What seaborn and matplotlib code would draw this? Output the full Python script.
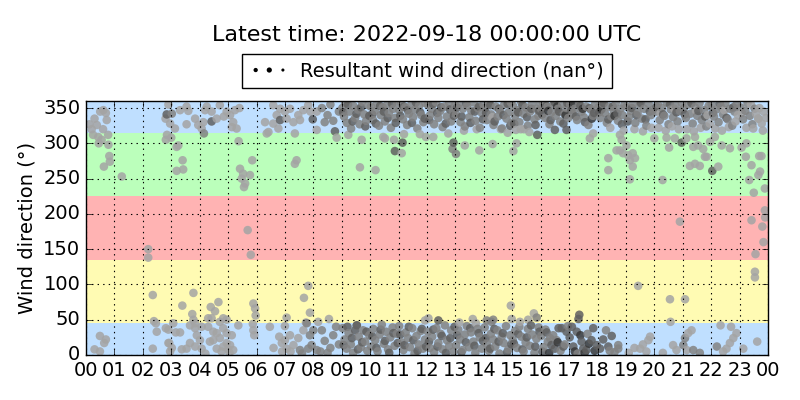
import matplotlib
matplotlib.use("Agg")
import matplotlib.pyplot as plt
import matplotlib.dates as mdates
import pandas as pd
import seaborn as sns

# wind direction observations: (hour of day, direction in degrees), grouped by point shade
light_pts = [
    (0.12, 327), (0.2, 320), (0.25, 312), (0.3, 335), (0.38, 326), (0.43, 309), (0.45, 300),
    (0.5, 345), (0.55, 305), (0.6, 320), (0.61, 347), (0.7, 343), (0.73, 333), (0.78, 312),
    (0.79, 298), (0.82, 282), (0.84, 274), (0.63, 267), (1.26, 253),
    (0.49, 27), (0.64, 17), (0.49, 5), (0.3, 8), (0.7, 22),
    (2.19, 150), (2.19, 138), (2.35, 85), (2.39, 48), (2.46, 45), (2.49, 33), (2.35, 9),
    (2.81, 38), (2.9, 36), (2.9, 17),
    (2.9, 355), (2.8, 335), (2.96, 328), (3.13, 321), (2.81, 305), (2.85, 312), (3.0, 308),
    (3.19, 295), (3.25, 297), (3.4, 276), (3.19, 261), (3.42, 263), (3.31, 347), (3.54, 352),
    (3.6, 346), (3.54, 327), (3.84, 335), (3.95, 326), (4.13, 330), (4.07, 321),
    (3.07, 45), (3.16, 32), (3.31, 32), (2.93, 17), (3.02, 10), (2.96, 5), (3.37, 8), (3.39, 70),
    (3.78, 88), (3.74, 58), (3.78, 50), (3.84, 45), (3.66, 42), (3.84, 38), (3.9, 28), (4.01, 21),
    (3.66, 17), (3.84, 12), (3.54, 9), (4.07, 9),
    (4.25, 352), (4.42, 345), (4.19, 347), (4.71, 354), (4.95, 345), (5.07, 340), (5.24, 347),
    (5.18, 330), (5.13, 323), (5.3, 321), (5.37, 303), (4.6, 335), (4.85, 338),
    (4.39, 68), (4.54, 62), (4.66, 75), (4.3, 52), (4.42, 52), (4.83, 52), (4.95, 50), (5.36, 42),
    (4.07, 40), (4.3, 40), (4.48, 33), (4.6, 31), (4.71, 47), (4.83, 38), (4.95, 31), (5.13, 28),
    (4.71, 24), (4.48, 21), (4.36, 19), (4.95, 17), (5.07, 14), (4.83, 12), (4.6, 9), (5.0, 8),
    (5.18, 7), (4.77, 5), (4.2, 2), (5.05, 3),
    (5.42, 264), (5.53, 257), (5.77, 255), (5.48, 250), (5.6, 243), (5.56, 238), (5.85, 276),
    (5.69, 177), (5.8, 142), (5.89, 73), (5.95, 66), (5.97, 56), (5.87, 44), (5.89, 35), (5.92, 28),
    (5.4, 350),
    (6.59, 354), (6.83, 349), (7.0, 345), (6.71, 340), (6.59, 328), (6.77, 321), (6.42, 316),
    (6.36, 314), (6.3, 330),
    (6.47, 40), (6.8, 26), (6.89, 17), (7.0, 21), (6.6, 10), (6.9, 5),
    (7.18, 349), (7.06, 335), (7.3, 330), (7.53, 333), (7.47, 340), (7.65, 347), (7.82, 354),
    (7.35, 314), (7.41, 276), (7.35, 271), (7.9, 345),
    (7.06, 53), (7.0, 41), (7.82, 98), (7.67, 81), (7.88, 60), (7.74, 46), (8.17, 47), (7.18, 28),
    (7.3, 14), (7.47, 24), (7.65, 35), (7.06, 9), (7.2, 5),
    (8.12, 345), (8.12, 319), (8.82, 308), (9.23, 312), (9.7, 305), (9.64, 266), (10.19, 262),
    (10.46, 309), (10.52, 307), (10.84, 305), (11.11, 286), (11.19, 313), (11.75, 313),
    (11.96, 309), (12.22, 309), (12.75, 314), (13.33, 297), (13.84, 290), (14.31, 299),
    (15.04, 289), (15.15, 300), (14.84, 315), (15.13, 319), (15.41, 320),
    (8.55, 51), (12.05, 52), (11.93, 49), (13.14, 46), (13.61, 51), (13.72, 45), (14.95, 70),
    (14.98, 51), (15.27, 47), (15.56, 50), (15.76, 59),
    (13.3, 318), (13.75, 320), (14.6, 320), (14.3, 337), (15.3, 320), (15.6, 316),
    (17.73, 307), (17.85, 314), (18.38, 279), (18.38, 262), (18.67, 290), (18.79, 290),
    (18.9, 286), (19.08, 283), (19.24, 286), (19.32, 279), (19.14, 276), (19.24, 267),
    (19.14, 249), (18.79, 312), (18.85, 305), (19.02, 297), (18.45, 322), (18.92, 318),
    (20.0, 307), (20.43, 308), (20.72, 307), (20.52, 294), (20.29, 248), (21.13, 307),
    (21.43, 309), (21.25, 268), (21.43, 271), (21.6, 268), (21.37, 295), (21.54, 297),
    (21.72, 292), (21.84, 281), (21.78, 281), (21.96, 302), (22.25, 267), (22.37, 297),
    (22.13, 309), (22.66, 293), (23.07, 294), (23.24, 300), (23.22, 281), (23.42, 269),
    (23.69, 282), (23.77, 282), (23.66, 255), (23.72, 260), (23.34, 248), (23.5, 230),
    (23.48, 321), (23.66, 335), (23.89, 236), (23.89, 205), (23.9, 195),
    (19.3, 320), (19.6, 317), (19.9, 322),
    (20.15, 322), (20.4, 318), (20.62, 324), (20.86, 320), (20.22, 343), (20.7, 349),
    (21.15, 320), (21.39, 317), (21.63, 322), (21.87, 340), (21.47, 346), (21.95, 328),
    (22.14, 321), (22.38, 318), (22.62, 323), (22.86, 331), (22.46, 347), (22.94, 340),
    (23.08, 343), (23.24, 322), (23.4, 355), (23.66, 335), (23.58, 342), (23.7, 350),
    (23.78, 328), (23.85, 345), (23.93, 336), (23.82, 318),
    (20.9, 189), (23.42, 191), (23.8, 182), (23.84, 160), (23.56, 143), (23.54, 118), (23.54, 110),
    (19.43, 98), (20.55, 79), (21.08, 79), (20.57, 47),
    (19.85, 26), (19.79, 21), (19.5, 9), (19.72, 5), (19.3, 10), (19.1, 3), (19.6, 15),
    (20.66, 14), (20.78, 7), (20.3, 3),
    (21.19, 31), (21.31, 35), (21.14, 7), (22.33, 42), (22.7, 40), (22.78, 24), (22.66, 17),
    (22.54, 9), (22.42, 5), (22.89, 31), (23.13, 9), (23.62, 19),
]

mid_pts = [
    (3.02, 342), (4.15, 314), (7.77, 45), (7.88, 28), (7.94, 14), (8.0, 35), (8.12, 7),
    (7.82, 9), (7.53, 7), (7.6, 2),
    (8.3, 350), (8.5, 340), (8.6, 355), (8.4, 330), (8.9, 345), (8.7, 332),
    (8.3, 35), (8.4, 20), (8.6, 10), (8.7, 28), (8.9, 15), (8.25, 5), (8.8, 40), (8.5, 3),
    (9.02, 350), (9.08, 338), (9.12, 357), (9.18, 329), (9.27, 345), (9.33, 321), (9.41, 353),
    (9.47, 336), (9.58, 348), (9.63, 327), (9.71, 359), (9.79, 341), (9.86, 332), (9.94, 354),
    (10.03, 352), (10.1, 333), (10.16, 346), (10.24, 357), (10.31, 325), (10.37, 340),
    (10.44, 351), (10.52, 331), (10.6, 355), (10.66, 343), (10.73, 322), (10.81, 349),
    (10.88, 336), (10.95, 358),
    (11.02, 347), (11.09, 358), (11.15, 334), (11.23, 351), (11.3, 326), (11.36, 342),
    (11.45, 355), (11.51, 337), (11.58, 348), (11.66, 321), (11.72, 353), (11.8, 340),
    (11.87, 330), (11.94, 357),
    (12.03, 355), (12.11, 340), (12.17, 349), (12.25, 327), (12.32, 358), (12.4, 336),
    (12.47, 346), (12.55, 323), (12.62, 352), (12.7, 338), (12.78, 357), (12.85, 331),
    (12.91, 345), (12.98, 354), (12.9, 292), (13.02, 285),
    (13.02, 341), (13.1, 356), (13.18, 330), (13.26, 349), (13.33, 324), (13.41, 353),
    (13.49, 337), (13.56, 346), (13.64, 358), (13.71, 332), (13.79, 350), (13.86, 322),
    (13.93, 343), (13.99, 355),
    (14.04, 350), (14.11, 333), (14.19, 357), (14.26, 341), (14.34, 326), (14.42, 352),
    (14.49, 338), (14.57, 347), (14.64, 321), (14.72, 355), (14.8, 335), (14.87, 344),
    (14.95, 358), (14.98, 329),
    (15.03, 353), (15.1, 339), (15.17, 347), (15.25, 330), (15.32, 358), (15.4, 342),
    (15.48, 351), (15.55, 325), (15.63, 345), (15.7, 356), (15.78, 334), (15.85, 349),
    (15.92, 339), (15.98, 357),
    (16.02, 348), (16.09, 357), (16.16, 336), (16.24, 352), (16.31, 327), (16.38, 344),
    (16.46, 355), (16.53, 339), (16.61, 349), (16.69, 331), (16.76, 356), (16.84, 342),
    (16.91, 350), (16.97, 336),
    (17.04, 355), (17.12, 341), (17.2, 349), (17.28, 333), (17.36, 357), (17.44, 345),
    (17.52, 337), (17.6, 352), (17.68, 326), (17.76, 348), (17.84, 339), (17.92, 356),
    (18.03, 351), (18.1, 336), (18.18, 356), (18.26, 343), (18.33, 329), (18.41, 352),
    (18.49, 338), (18.57, 347), (18.65, 358), (18.72, 332), (18.8, 349), (18.88, 340),
    (18.95, 355),
    (19.02, 352), (19.1, 337), (19.17, 346), (19.25, 357), (19.33, 329), (19.41, 343),
    (19.49, 354), (19.56, 335), (19.64, 349), (19.72, 325), (19.8, 356), (19.88, 340),
    (19.96, 348),
    (20.04, 345), (20.12, 356), (20.19, 333), (20.27, 350), (20.35, 339), (20.43, 358),
    (20.5, 327), (20.58, 348), (20.66, 337), (20.74, 354), (20.82, 331), (20.9, 346),
    (20.97, 357),
    (21.03, 349), (21.11, 336), (21.19, 355), (21.27, 342), (21.35, 328), (21.43, 351),
    (21.51, 339), (21.59, 357), (21.67, 333), (21.75, 347), (21.83, 324), (21.91, 353),
    (22.02, 355), (22.1, 338), (22.18, 348), (22.26, 330), (22.34, 352), (22.42, 341),
    (22.5, 357), (22.58, 334), (22.66, 349), (22.74, 325), (22.82, 345), (22.9, 356),
    (23.03, 351), (23.12, 334), (23.2, 346), (23.28, 357), (23.36, 339), (23.45, 327),
    (23.53, 349),
    (9.03, 38), (9.1, 22), (9.17, 9), (9.24, 31), (9.32, 15), (9.4, 3), (9.53, 42), (9.6, 26),
    (9.67, 11), (9.75, 35), (9.82, 19), (9.9, 6), (9.97, 28),
    (10.04, 12), (10.11, 37), (10.18, 21), (10.26, 5), (10.33, 29), (10.41, 43), (10.48, 16),
    (10.56, 33), (10.63, 8), (10.71, 25), (10.79, 39), (10.86, 13), (10.94, 30),
    (11.02, 41), (11.1, 18), (11.17, 7), (11.25, 32), (11.33, 24), (11.4, 11), (11.48, 38),
    (11.56, 2), (11.63, 27), (11.71, 15), (11.78, 34), (11.86, 9), (11.93, 22),
    (12.03, 33), (12.1, 10), (12.18, 26), (12.25, 4), (12.33, 38), (12.4, 17), (12.48, 30),
    (12.55, 8), (12.63, 42), (12.7, 21), (12.78, 13), (12.85, 35), (12.93, 5),
    (13.02, 14), (13.1, 36), (13.17, 22), (13.25, 7), (13.33, 29), (13.4, 41), (13.48, 11),
    (13.55, 32), (13.63, 19), (13.7, 3), (13.78, 37), (13.86, 25), (13.93, 9),
    (14.03, 39), (14.1, 16), (14.18, 6), (14.25, 30), (14.33, 22), (14.4, 12), (14.48, 35),
    (14.55, 2), (14.63, 26), (14.7, 17), (14.78, 41), (14.86, 8), (14.93, 28),
    (14.1, 49), (14.27, 47), (14.33, 50), (15.86, 53),
    (15.02, 21), (15.1, 34), (15.17, 10), (15.25, 40), (15.32, 26), (15.4, 5), (15.47, 18),
    (15.55, 37), (15.62, 13), (15.7, 29), (15.78, 3), (15.85, 23), (15.93, 39),
    (16.02, 27), (16.1, 11), (16.17, 36), (16.25, 19), (16.33, 24), (16.44, 28), (16.56, 21),
    (16.7, 6), (16.85, 15), (16.96, 41),
    (17.3, 2), (17.65, 30),
    (18.43, 6), (18.73, 14), (18.73, 9), (18.3, 35), (18.6, 4),
    (21.08, 24), (21.02, 14), (21.37, 7), (21.6, 3), (22.2, 12),
]

dark_pts = [
    (2.84, 341), (4.42, 331), (6.83, 333), (7.98, 334), (8.76, 317), (10.87, 289), (11.14, 301),
    (12.93, 301), (15.88, 312), (20.96, 301), (22.04, 261), (16.5, 319), (16.91, 319),
    (9.53, 42), (9.47, 35), (12.4, 49),
    (9.05, 344), (9.22, 355), (9.38, 331), (9.52, 342), (9.68, 351), (9.83, 324), (9.97, 339),
    (10.07, 341), (10.2, 328), (10.35, 353), (10.48, 345), (10.62, 336), (10.77, 356),
    (10.9, 329),
    (11.06, 339), (11.19, 352), (11.33, 347), (11.47, 329), (11.61, 358), (11.76, 344),
    (11.92, 335),
    (12.08, 333), (12.21, 356), (12.36, 343), (12.5, 351), (12.66, 328), (12.81, 348),
    (12.95, 339),
    (13.06, 351), (13.22, 338), (13.38, 357), (13.53, 329), (13.68, 345), (13.83, 352),
    (13.97, 334),
    (14.08, 343), (14.23, 354), (14.38, 331), (14.53, 349), (14.69, 340), (14.84, 356),
    (14.93, 325),
    (15.07, 328), (15.21, 344), (15.36, 354), (15.52, 337), (15.67, 349), (15.82, 326),
    (15.95, 346),
    (16.05, 341), (16.2, 353), (16.35, 333), (16.5, 358), (16.65, 345), (16.8, 328),
    (16.94, 357),
    (17.08, 347), (17.24, 338), (17.4, 353), (17.56, 330), (17.72, 350), (17.88, 343),
    (18.06, 344), (18.22, 357), (18.38, 334), (18.54, 352), (18.7, 342), (18.86, 327),
    (19.06, 331), (19.21, 350), (19.37, 340), (19.53, 357), (19.69, 334), (19.84, 345),
    (20.08, 352), (20.31, 341), (20.55, 355), (20.78, 344),
    (21.07, 341), (21.31, 357), (21.55, 346), (21.79, 338),
    (22.06, 343), (22.3, 357), (22.54, 336), (22.78, 351),
    (9.07, 14), (9.2, 40), (9.36, 24), (9.57, 8), (9.72, 18), (9.87, 33),
    (10.08, 26), (10.22, 10), (10.37, 36), (10.52, 20), (10.67, 3), (10.82, 31), (10.97, 17),
    (11.06, 29), (11.21, 14), (11.36, 40), (11.52, 21), (11.67, 6), (11.82, 37), (11.97, 12),
    (12.07, 19), (12.22, 36), (12.37, 12), (12.52, 27), (12.67, 3), (12.82, 24), (12.97, 40),
    (13.06, 28), (13.21, 4), (13.37, 18), (13.52, 38), (13.67, 13), (13.82, 31), (13.97, 20),
    (14.07, 24), (14.22, 9), (14.37, 37), (14.52, 19), (14.67, 31), (14.82, 4), (14.97, 15),
    (15.06, 16), (15.21, 30), (15.36, 8), (15.51, 25), (15.66, 42), (15.81, 12), (15.96, 33),
    (16.06, 5), (16.21, 32), (16.38, 14), (16.5, 9), (16.63, 38), (16.8, 12), (16.91, 33),
    (16.74, 38),
    (17.02, 25), (17.15, 12), (17.27, 33), (17.44, 19), (17.5, 9), (17.61, 7), (17.79, 21),
    (17.85, 38), (17.97, 14), (17.36, 57), (17.33, 51), (17.1, 40),
    (18.09, 9), (18.2, 22), (18.38, 12), (18.5, 27),
]

black_pts = [
    (16.27, 346), (16.58, 352), (16.88, 340), (17.16, 357), (17.48, 349), (17.8, 335),
    (18.14, 348), (18.6, 339),
    (16.3, 3), (16.6, 18), (17.2, 5), (17.55, 3), (17.7, 16), (17.9, 6), (17.4, 28),
]

shade_colors = {"light": "#a4a4a4", "mid": "#828282", "dark": "#606060", "black": "#383838"}

# direction sectors (deg) and their background colours
band_edges = [0, 45, 135, 225, 315, 360]
band_colors = ["#bfdfff", "#fffbb3", "#ffb3b3", "#bbffbb", "#bfdfff"]

rows = []
for name, pts in [("light", light_pts), ("mid", mid_pts), ("dark", dark_pts), ("black", black_pts)]:
    for h, d in pts:
        rows.append((h, d, name))
df = pd.DataFrame(rows, columns=["hour", "direction", "shade"]).sort_values("hour")
day = pd.Timestamp("2022-09-17")
df["time"] = day + pd.to_timedelta(df["hour"], unit="h")

plt.style.use("classic")
fig, ax = plt.subplots(figsize=(8, 4), dpi=100, facecolor="white")
fig.subplots_adjust(left=0.1075, right=0.96, bottom=0.1125, top=0.7475)

for lo, hi, c in zip(band_edges[:-1], band_edges[1:], band_colors):
    ax.axhspan(lo, hi, color=c, zorder=0, linewidth=0)

sns.scatterplot(data=df, x="time", y="direction", hue="shade", palette=shade_colors,
                s=38, linewidth=0, alpha=0.85, legend=False, ax=ax, zorder=1)

# legend handle: three black dots, the middle one bigger
handle = ax.scatter([], [], c="k", s=10, linewidth=0, label="Resultant wind direction (nan°)")
handle.set_sizes([5, 14])
ax.legend(handles=[handle], loc="lower center", bbox_to_anchor=(0.5, 1.012), scatterpoints=3,
          scatteryoffsets=[0.5], fontsize=14, handletextpad=0.6, borderpad=0.38)

ax.set_title("Latest time: 2022-09-18 00:00:00 UTC", fontsize=16, pad=43)
ax.set_ylabel("Wind direction (°)", fontsize=14)
ax.set_xlabel("")
ax.set_ylim(0, 360)
ax.set_yticks(range(0, 351, 50))
ax.set_xlim(day, day + pd.Timedelta(days=1))
ax.xaxis.set_major_locator(mdates.HourLocator(interval=1))
ax.xaxis.set_major_formatter(mdates.DateFormatter("%H"))
ax.tick_params(labelsize=14)
ax.grid(True, linestyle=":", color="k", linewidth=0.8)

fig.savefig("out.png", dpi=100, facecolor="white")
